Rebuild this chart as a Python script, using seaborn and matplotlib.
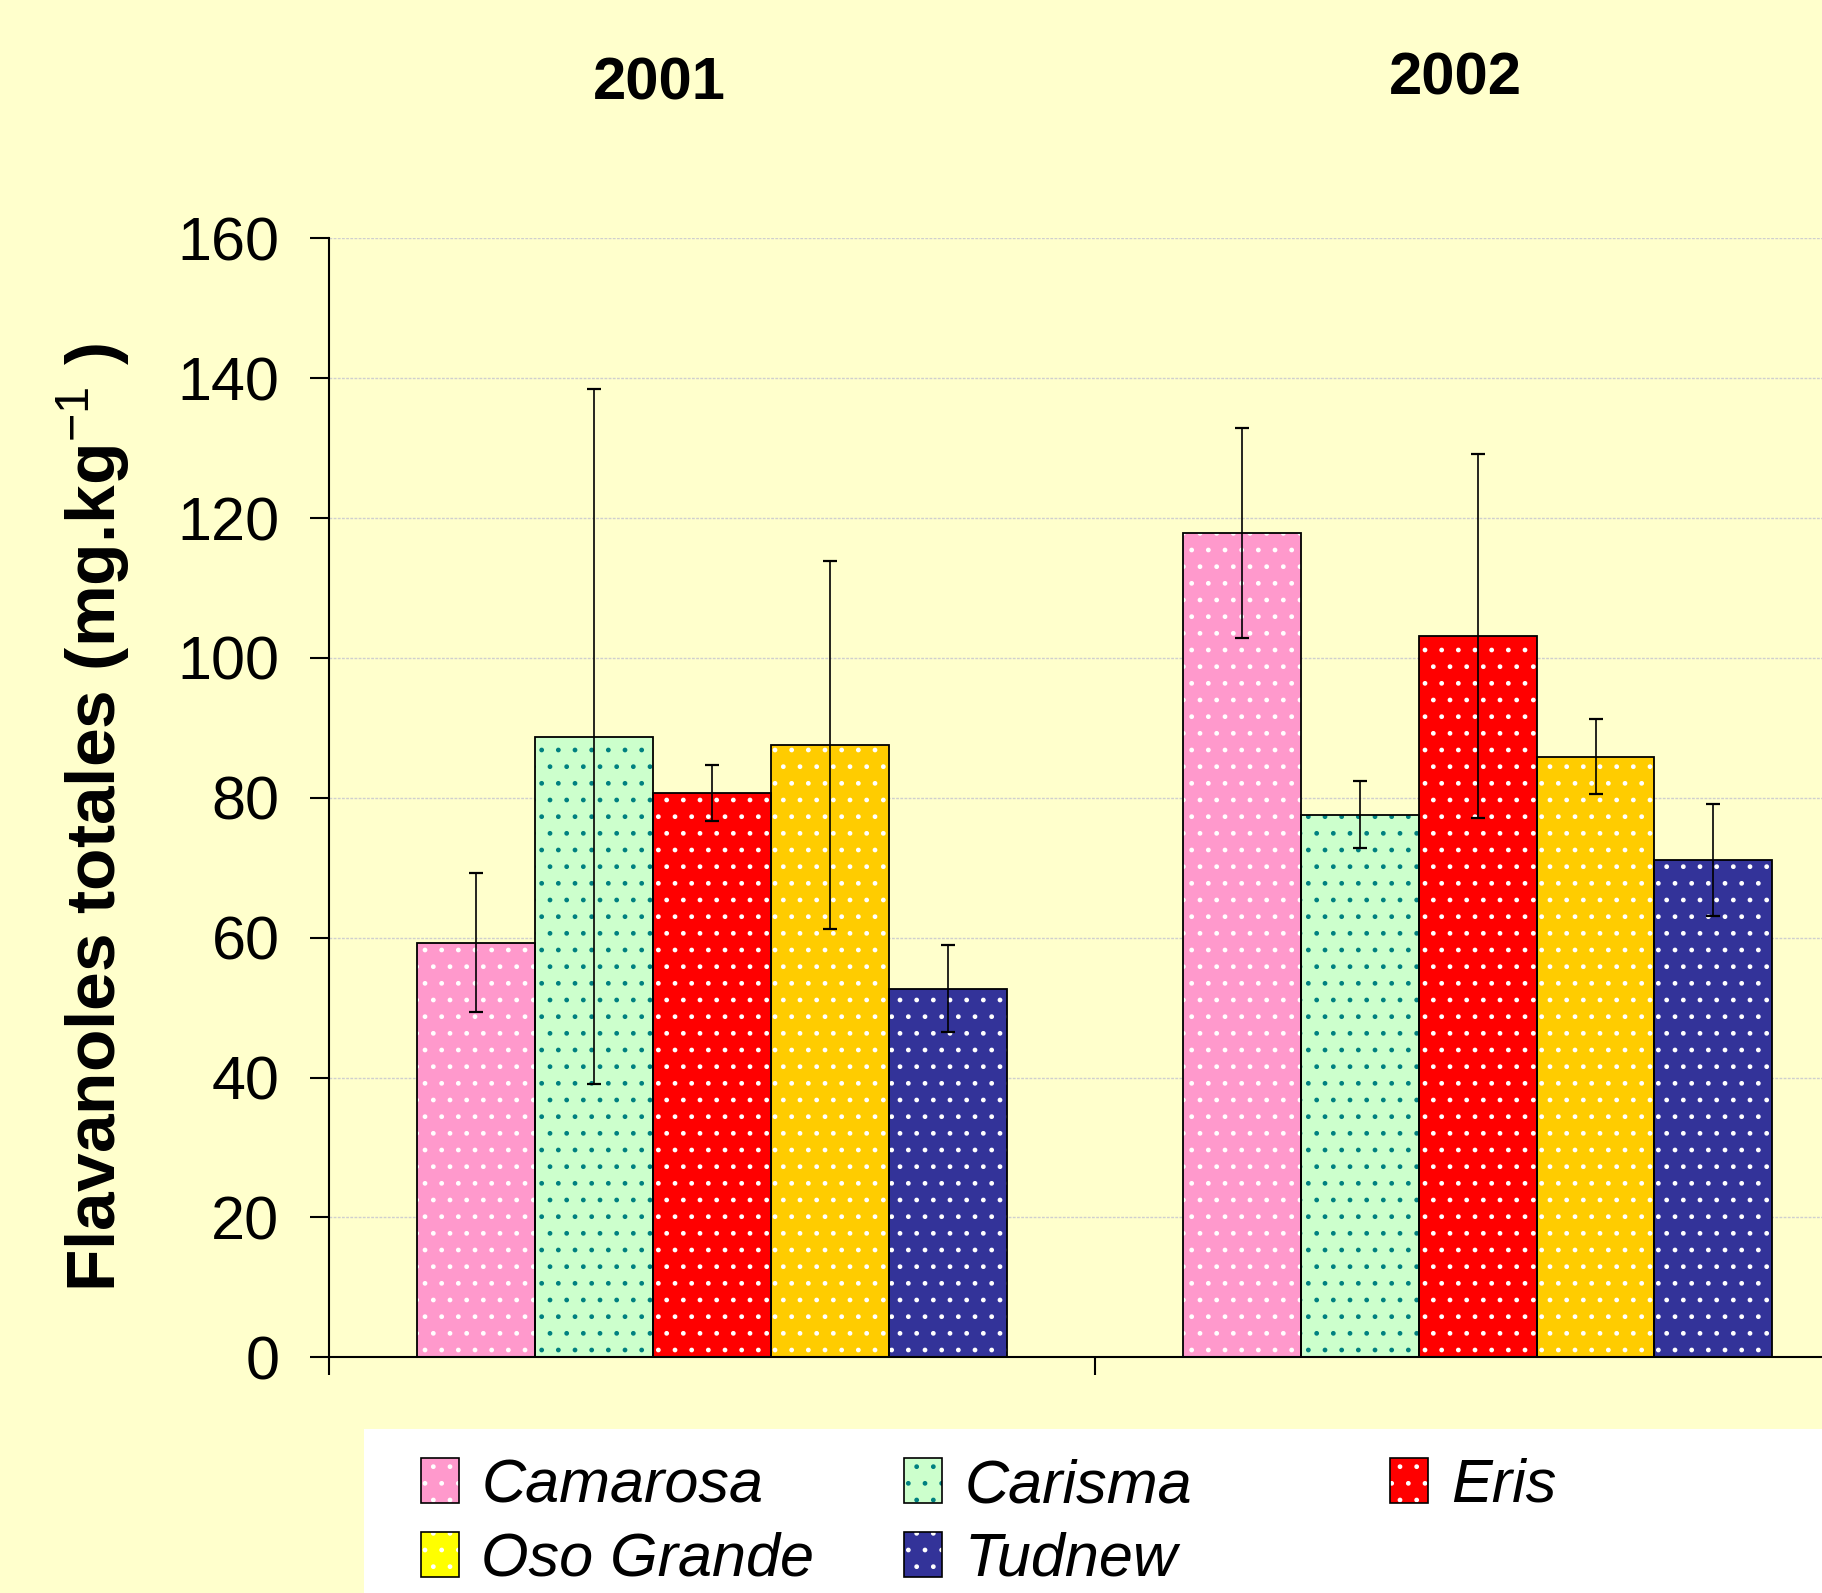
import pandas as pd
import matplotlib
matplotlib.use('Agg')
import matplotlib.pyplot as plt
import seaborn as sns
from matplotlib.patches import Rectangle, Patch

# --- data ---
years = ['2001', '2002']
cultivars = ['Camarosa', 'Carisma', 'Eris', 'Oso Grande', 'Tudnew']
camarosa = [59.3, 117.9]
carisma = [88.7, 77.6]
eris = [80.7, 103.1]
oso_grande = [87.6, 85.9]
tudnew = [52.7, 71.1]
camarosa_err = [9.9, 15.0]
carisma_err = [49.7, 4.8]
eris_err = [4.0, 26.0]
oso_grande_err = [26.3, 5.3]
tudnew_err = [6.2, 8.0]
y_ticks = [0, 20, 40, 60, 80, 100, 120, 140, 160]

bar_colors = ['#FF99CC', '#CCFFCC', '#FF0000', '#FFCC00', '#333399']
dot_colors = ['#FFFFFF', '#008080', '#FFFFFF', '#FFFFFF', '#FFFFFF']
legend_colors = ['#FF99CC', '#CCFFCC', '#FF0000', '#FFFF00', '#333399']
bg = '#FFFFCC'

values = [camarosa, carisma, eris, oso_grande, tudnew]
errors = [camarosa_err, carisma_err, eris_err, oso_grande_err, tudnew_err]
rows = []
for name, vals in zip(cultivars, values):
    for yr, v in zip(years, vals):
        rows.append({'year': yr, 'cultivar': name, 'value': v})
df = pd.DataFrame(rows)

sns.set_theme(style='white')
fams = ['Liberation Sans', 'DejaVu Sans']
plt.rcParams['font.family'] = fams
plt.rcParams['text.color'] = 'black'
plt.rcParams['axes.labelcolor'] = 'black'
plt.rcParams['xtick.color'] = 'black'
plt.rcParams['ytick.color'] = 'black'
plt.rcParams['mathtext.fontset'] = 'custom'
plt.rcParams['mathtext.rm'] = 'Liberation Sans'
plt.rcParams['mathtext.bf'] = 'Liberation Sans:bold'
plt.rcParams['hatch.linewidth'] = 1.0

fig = plt.figure(figsize=(18.22, 15.93), dpi=100, facecolor=bg)
ax = fig.add_axes([0.1806, 0.148, 0.8405, 0.7024])
ax.set_facecolor(bg)

sns.barplot(data=df, x='year', y='value', hue='cultivar', order=years,
            hue_order=cultivars, palette=bar_colors, saturation=1, width=0.77,
            errorbar=None, legend=False, ax=ax, zorder=2)

# dotted fill + black outline + error bars
bar_containers = list(ax.containers)
for i, cont in enumerate(bar_containers):
    xs, hs = [], []
    for bar in cont:
        bar.set_hatch('.')
        bar.set_edgecolor(dot_colors[i])
        bar.set_linewidth(0)
        ax.add_patch(Rectangle(bar.get_xy(), bar.get_width(), bar.get_height(),
                               fill=False, edgecolor='black', lw=1.3, zorder=3))
        xs.append(bar.get_x() + bar.get_width() / 2)
        hs.append(bar.get_height())
    ax.errorbar(xs, hs, yerr=errors[i], fmt='none', ecolor='black',
                elinewidth=1.2, capsize=5, capthick=1.6, zorder=4)

ax.set_xlim(-0.5, 1.5)
ax.set_ylim(0, 160)
ax.set_yticks(y_ticks)
ax.set_xticks([-0.5, 0.5, 1.5])
ax.set_xticklabels([])
ax.set_xlabel('')
ax.yaxis.grid(True, color='#CFCFCF', lw=1, ls=(0, (2, 1)))
ax.set_axisbelow(True)
for s in ['top', 'right']:
    ax.spines[s].set_visible(False)
for s in ['left', 'bottom']:
    ax.spines[s].set_color('black')
    ax.spines[s].set_linewidth(1.5)
ax.tick_params(axis='y', direction='out', length=13.7, width=1.5, pad=22,
               labelsize=44, colors='black', left=True)
ax.tick_params(axis='x', direction='out', length=13, width=1.5, bottom=True)

ax.set_ylabel('Flavanoles totales (mg.kg$^{-1}$ )', fontsize=50,
              fontweight='bold', va='center', color='black')
ax.yaxis.set_label_coords(-0.1541, 0.4821)

fig.text(0.3617, 0.947, '2001', ha='center', va='center', fontsize=43,
         fontweight='bold', color='black')
fig.text(0.799, 0.9504, '2002', ha='center', va='center', fontsize=43,
         fontweight='bold', color='black')

# legend panel
fig.add_artist(Rectangle((0.2, 0), 0.8, 0.103, transform=fig.transFigure,
                         facecolor='white', edgecolor='none', zorder=0))

def handle(i):
    return (Patch(facecolor=legend_colors[i], edgecolor=dot_colors[i], hatch='.', lw=0),
            Patch(fill=False, edgecolor='black', lw=1.2))

leg_kw = dict(loc='center left', frameon=False, borderpad=0, borderaxespad=0,
              handlelength=0.62, handleheight=0.75, handletextpad=0.37,
              labelspacing=0.27, labelcolor='black',
              prop=dict(family=fams, style='italic', size=44))
columns = [([0, 3], 0.231, 0.0437), ([1, 4], 0.496, 0.0437), ([2], 0.763, 0.0672)]
for idx, x0, y0 in columns:
    fig.legend([handle(i) for i in idx], [cultivars[i] for i in idx],
               bbox_to_anchor=(x0, y0), **leg_kw)

fig.savefig('out.png', dpi=100, facecolor=fig.get_facecolor())
